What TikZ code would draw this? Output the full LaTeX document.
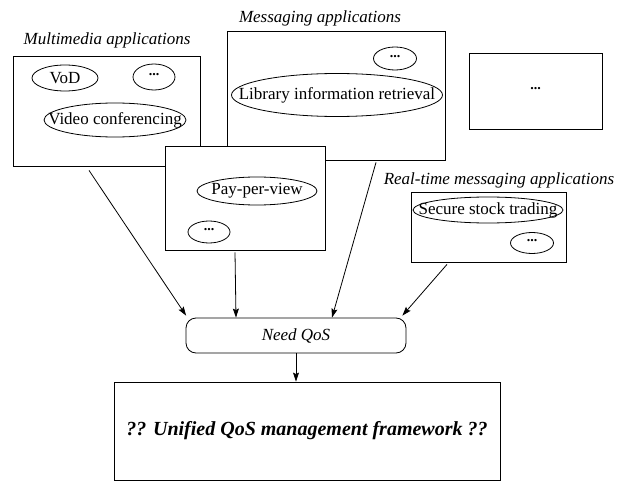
\documentclass[tikz,border=0pt]{standalone}
\usepackage{fontspec}
\setmainfont{Liberation Serif}
\usetikzlibrary{arrows.meta,shapes.geometric}
\begin{document}
\begin{tikzpicture}[x=1pt,y=-1pt,
  line width=0.8pt,
  every node/.style={font=\fontsize{17}{20}\selectfont, inner sep=0pt},
  group/.style={draw, rectangle},
  title/.style={font=\fontsize{17}{20}\selectfont\itshape},
  item/.style={},
  dots/.style={font=\fontsize{14}{16}\selectfont\bfseries},
  flow/.style={-{Stealth[length=9pt,width=6pt,inset=1.5pt]}}
]
\useasboundingbox (0,0) rectangle (623,481);

% application groups
\node[group, minimum width=187, minimum height=110] (mm) at (106.5,111) {};
\node[title] (mmt) at (107,40) {Multimedia applications};
\node[group, minimum width=218, minimum height=129] (msg) at (336,95.5) {};
\node[title] (msgt) at (320,18) {Messaging applications};
\node[group, fill=white, minimum width=160, minimum height=104] (ppv) at (245,198) {};
\node[group, minimum width=133, minimum height=76] (other) at (535.5,91) {};
\node[dots] (otherd) at (535.5,89) {...};
\node[group, minimum width=155, minimum height=70] (rt) at (488.5,227) {};
\node[title] (rtt) at (499,180) {Real-time messaging applications};

% applications inside the groups
\node[item] (vod) at (65,78) {VoD};
\draw (vod.center) ellipse[x radius=33, y radius=13];
\node[dots] (mmd) at (154,75) {...};
\draw (154,77) ellipse[x radius=21, y radius=13];
\node[item] (vc) at (115,120) {Video conferencing};
\draw (vc.center) ellipse[x radius=71, y radius=17];

\node[dots] (msgd) at (395,56.5) {...};
\draw (395,58.5) ellipse[x radius=21.5, y radius=11.5];
\node[item] (lib) at (337,95) {Library information retrieval};
\draw (lib.center) ellipse[x radius=105.5, y radius=21.5];

\node[item] (pay) at (257,191) {Pay-per-view};
\draw (pay.center) ellipse[x radius=60, y radius=14];
\node[dots] (ppvd) at (209,230) {...};
\draw (209,232) ellipse[x radius=21, y radius=11];

\node[item] (sst) at (488,210) {Secure stock trading};
\draw (sst.center) ellipse[x radius=75, y radius=13];
\node[dots] (rtd) at (532,241) {...};
\draw (532,243) ellipse[x radius=21.5, y radius=10.5];

% common need and framework
\node[draw, rounded corners=10pt, minimum width=220, minimum height=35,
      font=\fontsize{17}{20}\selectfont\itshape] (need) at (296,335.5) {Need QoS};
\node[draw, minimum width=386, minimum height=98,
      font=\fontsize{20}{24}\selectfont\bfseries\itshape] (uqf) at (307,431)
      {?? Unified QoS management framework ??};

% connectors
\draw[flow] ([xshift=-17.5pt,yshift=-4pt]mm.south) -- ([xshift=0.5pt,yshift=2pt]need.north west);
\draw[flow] ([xshift=-10pt,yshift=-2pt]ppv.south) -- ([xshift=-60pt]need.north);
\draw[flow] ([xshift=40pt,yshift=-2pt]msg.south) -- ([xshift=36pt]need.north);
\draw[flow] ([xshift=-41.5pt,yshift=-2pt]rt.south) -- ([xshift=-4pt,yshift=2pt]need.north east);
\draw[flow] (need.south) -- (need.south |- uqf.north);
\end{tikzpicture}
\end{document}
